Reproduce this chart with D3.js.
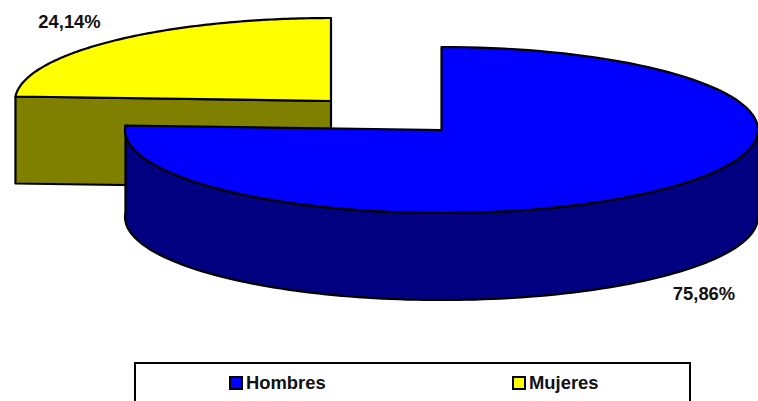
<!DOCTYPE html>
<html><head><meta charset="utf-8">
<script src="https://cdnjs.cloudflare.com/ajax/libs/d3/7.8.5/d3.min.js"></script>
<style>html,body{margin:0;padding:0;background:#fff;overflow:hidden}svg{display:block}text{font-family:"Liberation Sans",Arial,sans-serif;font-weight:bold;fill:#111}</style>
</head><body><svg id="c" width="758" height="401"></svg>
<script>
const categories = ["Hombres", "Mujeres"];
const values = [75.86, 24.14];
const labels = ["75,86%", "24,14%"];
const topColors = ["#0000ff", "#ffff00"];
const sideColors = ["#000080", "#808000"];

const W = 758, H = 401;
const svg = d3.select("#c");
const pie = d3.pie().sort(null).value(d => d)(values);

// exploded 3D slices
const geom = [
  {cx: 441.5, cy: 130, rx: 316.5, ry: 83, depth: 87},
  {cx: 331, cy: 101, rx: 316, ry: 83, depth: 87}
];
const px = (g, a) => g.cx + g.rx * Math.sin(a);
const py = (g, a, dz = 0) => g.cy - g.ry * Math.cos(a) + dz;
const samples = (a0, a1) => d3.range(0, 121).map(i => a0 + (a1 - a0) * i / 120);
const line = d3.line();

function topPath(g, p) {
  const pts = samples(p.startAngle, p.endAngle).map(a => [px(g, a), py(g, a)]);
  return line([[g.cx, g.cy], ...pts]) + "Z";
}
function rimPath(g, a0, a1) {
  const up = samples(a0, a1).map(a => [px(g, a), py(g, a)]);
  const dn = samples(a1, a0).map(a => [px(g, a), py(g, a, g.depth)]);
  return line([...up, ...dn]) + "Z";
}
function cutPath(g, a) {
  return line([[px(g, a), py(g, a)], [g.cx, g.cy], [g.cx, g.cy + g.depth], [px(g, a), py(g, a, g.depth)]]) + "Z";
}
const add = (d, fill) => svg.append("path").attr("d", d).attr("fill", fill)
  .attr("stroke", "#000").attr("stroke-width", 2.2).attr("stroke-linejoin", "round");

// Mujeres (behind)
add(cutPath(geom[1], pie[1].startAngle), sideColors[1]);
add(topPath(geom[1], pie[1]), topColors[1]);
// Hombres (front)
add(rimPath(geom[0], Math.PI / 2, pie[0].endAngle), sideColors[0]);
add(topPath(geom[0], pie[0]), topColors[0]);

// data labels
const labelPos = [[704, 295], [69.5, 23]];
svg.selectAll("text.lbl").data(labels).join("text").attr("class", "lbl")
  .attr("x", (d, i) => labelPos[i][0]).attr("y", (d, i) => labelPos[i][1])
  .attr("text-anchor", "middle").attr("dominant-baseline", "middle")
  .attr("font-size", 18.4).text(d => d);

// legend (runs off the bottom of the picture)
svg.append("rect").attr("x", 135).attr("y", 363).attr("width", 555).attr("height", 60)
  .attr("fill", "#fff").attr("stroke", "#000").attr("stroke-width", 2);
const legendX = d3.scalePoint().domain(categories).range([230, 513]);
const lg = svg.selectAll("g.lg").data(categories).join("g").attr("class", "lg")
  .attr("transform", d => `translate(${legendX(d)},0)`);
lg.append("rect").attr("x", 0).attr("y", 377).attr("width", 12).attr("height", 12)
  .attr("fill", (d, i) => topColors[i]).attr("stroke", "#000").attr("stroke-width", 2);
lg.append("text").attr("x", 16).attr("y", 384).attr("dominant-baseline", "middle")
  .attr("font-size", 18.4).text(d => d);
</script></body></html>
